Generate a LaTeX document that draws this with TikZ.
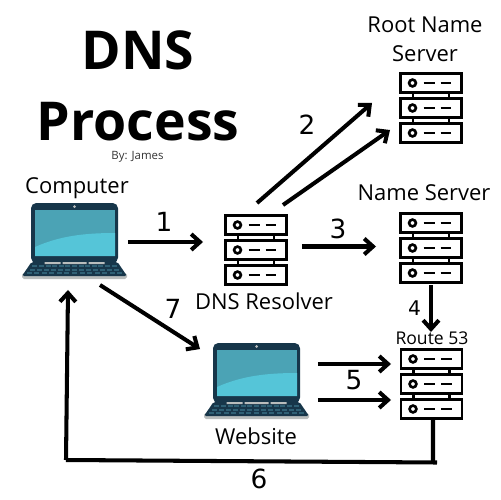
\documentclass[tikz,border=0pt]{standalone}
\usepackage{fontspec}
\setmainfont{Open Sans}
\newfontfamily\digitfont{DejaVu Sans}
\usetikzlibrary{arrows.meta}
\definecolor{lapDark}{HTML}{17364A}
\definecolor{lapScreen}{HTML}{4BA3B5}
\definecolor{lapLight}{HTML}{55C5D8}
\definecolor{lapKey}{HTML}{2F6075}
\definecolor{lapGrey}{HTML}{B9BDBD}
\tikzset{
  iconbox/.style={inner sep=0pt, outer sep=0pt},
  serverbox/.style={iconbox, minimum width=1.24cm, minimum height=1.38cm},
  laptopbox/.style={iconbox, minimum width=2.1cm, minimum height=1.52cm},
  link/.style={line width=2.3pt, ->},
  label/.style={font=\fontsize{12.5}{16.5}\selectfont, align=center, inner sep=0pt},
  step num/.style={font=\digitfont\fontsize{15}{18}\selectfont, inner sep=0pt},
  title/.style={font=\fontsize{30.5}{36}\selectfont\bfseries, inner sep=0pt},
  server/.pic={
    % three stacked units
    \foreach \yy in {-25,0,25}{
      \draw[line width=1.5pt, fill=white] (-30.5,\yy-9.5) rectangle (30.5,\yy+9.5);
      \draw[line width=1.5pt] (-18.5,\yy) circle (3.4);
      \draw[line width=1.5pt] (-7.5,\yy) -- (3.5,\yy) (9.5,\yy) -- (20,\yy);
    }
    % struts between the units
    \foreach \xx in {-18,18}{
      \draw[line width=1.5pt] (\xx,-15.5) -- (\xx,-9.5) (\xx,9.5) -- (\xx,15.5);
    }
  },
  laptop/.pic={
    % base and keyboard
    \fill[lapGrey, rounded corners=1pt] (-52.5,32) rectangle (52.5,38);
    \fill[lapDark, rounded corners=1pt] (-43,21) -- (43,21) -- (52.5,35) -- (-52.5,35) -- cycle;
    \foreach \yy/\ww in {25/43,29/46,32/49}{
      \foreach \xx in {-6,...,6}{
        \fill[lapKey] ({\xx*\ww/6.5-2.5},\yy-0.7) rectangle ({\xx*\ww/6.5+2.5},\yy+0.7);
      }
    }
    % lid and screen
    \fill[lapDark, rounded corners=3pt] (-43.5,-38) rectangle (43.5,22);
    \fill[lapGrey] (-30,21) rectangle (-14,23) (-12,21) rectangle (12,23) (30,21) rectangle (14,23);
    \fill[lapScreen] (-39.5,-31) rectangle (40.5,15);
    \fill[lapLight] (-39.5,6) .. controls (-15,-5) and (10,-8) .. (40.5,-8) -- (40.5,15) -- (-39.5,15) -- cycle;
    \fill[lapGrey] (0,-34.5) circle (1.5);
  }
}
\begin{document}
\begin{tikzpicture}[x=0.02cm, y=-0.02cm, >={Straight Barb[length=5pt,width=9pt]}]
  \useasboundingbox (0,0) rectangle (500,500);

  % title
  \node[title] (titleA) at (138,50) {DNS};
  \node[title] (titleB) at (138,122) {Process};
  \node[font=\fontsize{6.5}{7}\selectfont, text=black!80, inner sep=0pt] (byline) at (137.5,156.5) {By: James};

  % icons
  \pic at (74.5,241) {laptop};
  \pic at (256.5,381) {laptop};
  \pic at (256,250) {server};
  \pic at (431,108) {server};
  \pic at (431,248) {server};
  \pic at (431.5,384) {server};

  % icon frames used by the connectors
  \node[laptopbox] (computer) at (74.5,241) {};
  \node[laptopbox] (website) at (256.5,381) {};
  \node[serverbox] (resolver) at (256,250) {};
  \node[serverbox] (root) at (431,108) {};
  \node[serverbox] (nameserver) at (431,248) {};
  \node[serverbox] (route) at (431.5,384) {};
  \coordinate (cornerA) at (433,462.5);
  \coordinate (cornerB) at (437,462.5);
  \coordinate (cornerC) at (66,460);

  % icon labels
  \node[label] (computerText) at (77,188) {Computer};
  \node[label] (resolverText) at (264,301) {DNS Resolver};
  \node[label] (rootText) at (425,39) {Root Name\\Server};
  \node[label] (nameText) at (424,193) {Name Server};
  \node[label, font=\fontsize{10}{11}\selectfont] (routeText) at (432,338) {Route 53};
  \node[label] (websiteText) at (256,436) {Website};

  % connectors
  \draw[link] ([shift={(1,1)}]computer.east) -- ([shift={(-22,-8)}]resolver.west);
  \draw[link] ([shift={(1,-12.5)}]resolver.north) -- ([shift={(-28,-5)}]root.west);
  \draw[link] ([shift={(27,-10.5)}]resolver.north) -- ([shift={(-10,22)}]root.west);
  \draw[link] ([shift={(15,-3.5)}]resolver.east) -- ([shift={(-24,-1.5)}]nameserver.west);
  \draw[link] ([yshift=-0.06cm]nameserver.south) -- ([shift={(-0.5,-17.5)}]route.north);
  \draw[link] ([shift={(9,-17)}]website.east) -- ([shift={(-9.5,-20)}]route.west);
  \draw[link] ([shift={(9,19)}]website.east) -- ([shift={(-9.5,16)}]route.west);
  \draw[link, -] ([xshift=0.03cm]route.south) -- (cornerA);
  \draw[link, -] (cornerB) -- (cornerC);
  \draw[link] (cornerC) -- ([shift={(-6.5,11)}]computer.south);
  \draw[link] ([shift={(25.5,6)}]computer.south) -- ([shift={(-56.5,6)}]website.north);

  % step numbers
  \node[step num] (numA) at (164,222) {1};
  \node[step num] (numB) at (307,125) {2};
  \node[step num] (numC) at (338,229) {3};
  \node[step num, font=\digitfont\fontsize{11.5}{12}\selectfont] (numD) at (414.5,308) {4};
  \node[step num] (numE) at (354,380) {5};
  \node[step num] (numF) at (259,479) {6};
  \node[step num] (numG) at (173,309) {7};
\end{tikzpicture}
\end{document}
